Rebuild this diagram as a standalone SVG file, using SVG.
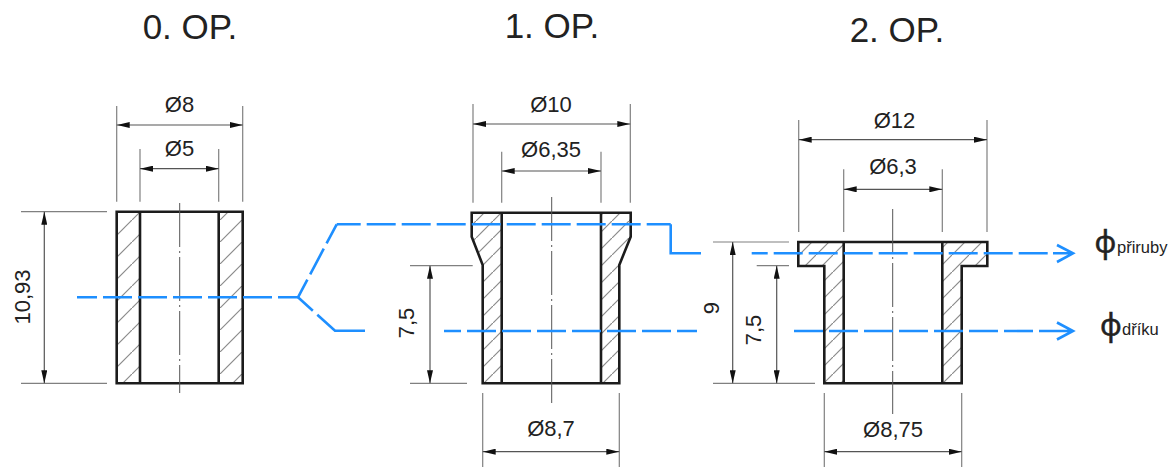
<svg xmlns="http://www.w3.org/2000/svg" width="1172" height="468" viewBox="0 0 1172 468">
<style>
text{font-family:"Liberation Sans",Arial,sans-serif;fill:#222}
.t{font-size:35px;text-anchor:middle}
.d{font-size:22px;text-anchor:middle}
.s{font-size:16.5px}
.f{font-size:30px;font-family:"Noto Sans","Open Sans",sans-serif;stroke:#222;stroke-width:.5}
.o{fill:none;stroke:#1c1c1c;stroke-width:2.6;stroke-linejoin:miter}
.e{fill:none;stroke:#808080;stroke-width:1.2}
.l{fill:none;stroke:#555;stroke-width:1.2}
.c{fill:none;stroke:#555;stroke-width:1;stroke-dasharray:44 4 2 4}
.b{fill:none;stroke:#1e8fff;stroke-width:2.6;stroke-dasharray:29 6}
.bs{fill:none;stroke:#1e8fff;stroke-width:2.6}
</style>
<defs>
<pattern id="h0" patternUnits="userSpaceOnUse" width="22" height="22"><path d="M-2 24L24 -2" fill="none" stroke="#8a8a8a" stroke-width="1.2"/></pattern>
<pattern id="h1" patternUnits="userSpaceOnUse" width="17" height="17"><path d="M-2 19L19 -2" fill="none" stroke="#8a8a8a" stroke-width="1.2"/></pattern>
<marker id="a" markerUnits="userSpaceOnUse" markerWidth="13" markerHeight="6" refX="13" refY="3" orient="auto-start-reverse"><path d="M0 0L13 3L0 6Z" fill="#111"/></marker>
</defs>
<g id="titles">
<text class="t" x="190" y="39">0. OP.</text>
<text class="t" x="552" y="38">1. OP.</text>
<text class="t" x="897" y="42">2. OP.</text>
</g>
<g id="part-0">
<path d="M116.7 211.7H140V383.3H116.7ZM218.7 211.7H242.7V383.3H218.7Z" fill="url(#h0)"/>
<path class="o" d="M116.7 211.7H242.7V383.3H116.7ZM140 211.7V383.3M218.7 211.7V383.3"/>
<path class="c" d="M179.7 203V393"/>
</g>
<g id="part-1">
<path d="M471.7 212.7H501.7V383.3H482.7V265L471.7 236.7ZM601 212.7H630.7V236.7L619.3 265V383.3H601Z" fill="url(#h1)"/>
<path class="o" d="M471.7 212.7H630.7V236.7L619.3 265V383.3H482.7V265L471.7 236.7ZM501.7 212.7V383.3M601 212.7V383.3"/>
<path class="c" d="M551.7 197V407"/>
</g>
<g id="part-2">
<path d="M798.3 242H843.7V383.3H824.3V266H798.3ZM942.3 242H987.3V266H961.7V383.3H942.3Z" fill="url(#h1)"/>
<path class="o" d="M798.3 242H987.3V266H961.7V383.3H824.3V266H798.3ZM843.7 242V383.3M942.3 242V383.3"/>
<path class="c" d="M892.7 209V414"/>
</g>
<g id="dimensions">
<path class="e" d="M116.7 106V201.7M242.7 106V201.7M140 149V201.7M218.7 149V201.7M21 211.7H107M21 383.3H107"/>
<line class="l" x1="116.7" y1="125" x2="242.7" y2="125" marker-start="url(#a)" marker-end="url(#a)"/>
<line class="l" x1="140" y1="168.7" x2="218.7" y2="168.7" marker-start="url(#a)" marker-end="url(#a)"/>
<line class="l" x1="44.3" y1="211.7" x2="44.3" y2="383.3" marker-start="url(#a)" marker-end="url(#a)"/>
<text class="d" x="179.5" y="112">Ø8</text>
<text class="d" x="179.5" y="156">Ø5</text>
<text class="d" transform="translate(30 297) rotate(-90)">10,93</text>

<path class="e" d="M473 104V202.7M630.3 104V202.7M501.7 151.7V202.7M601 151.7V202.7M410 265.7H472.7M410 383.3H467M482.7 393V467M619.3 393V467"/>
<line class="l" x1="473" y1="124" x2="630.3" y2="124" marker-start="url(#a)" marker-end="url(#a)"/>
<line class="l" x1="501.7" y1="171" x2="601" y2="171" marker-start="url(#a)" marker-end="url(#a)"/>
<line class="l" x1="430" y1="265.7" x2="430" y2="383.3" marker-start="url(#a)" marker-end="url(#a)"/>
<line class="l" x1="482.7" y1="451.7" x2="619.3" y2="451.7" marker-start="url(#a)" marker-end="url(#a)"/>
<text class="d" x="551" y="112.3">Ø10</text>
<text class="d" x="551" y="156.7">Ø6,35</text>
<text class="d" transform="translate(414 323) rotate(-90)">7,5</text>
<text class="d" x="551" y="436">Ø8,7</text>

<path class="e" d="M798.7 120V232M987 120V232M843.7 169.3V232M942.3 169.3V232M713 242H789M756.7 265.7H789M713 383.3H815M824.3 393V467M961.7 393V467"/>
<line class="l" x1="798.7" y1="139.7" x2="987" y2="139.7" marker-start="url(#a)" marker-end="url(#a)"/>
<line class="l" x1="843.7" y1="189.3" x2="942.3" y2="189.3" marker-start="url(#a)" marker-end="url(#a)"/>
<line class="l" x1="732.7" y1="242" x2="732.7" y2="383.3" marker-start="url(#a)" marker-end="url(#a)"/>
<line class="l" x1="776.7" y1="265.7" x2="776.7" y2="383.3" marker-start="url(#a)" marker-end="url(#a)"/>
<line class="l" x1="824.3" y1="451.7" x2="961.7" y2="451.7" marker-start="url(#a)" marker-end="url(#a)"/>
<text class="d" x="894.5" y="127.7">Ø12</text>
<text class="d" x="893" y="174.3">Ø6,3</text>
<text class="d" transform="translate(719 308) rotate(-90)">9</text>
<text class="d" transform="translate(761 330) rotate(-90)">7,5</text>
<text class="d" x="893" y="437">Ø8,75</text>
</g>
<g id="connectors">
<path class="b" style="stroke-dashoffset:9" d="M77 297.3H298"/>
<path class="b" style="stroke-dashoffset:9" d="M298 297.3L336.7 224.3"/>
<path class="b" style="stroke-dashoffset:5" d="M336.7 224.3H670.7"/>
<path class="bs" d="M670.7 224.3V253.3H701"/>
<path class="bs" style="stroke-dasharray:20 6 80" d="M298 297.3L335 330.7H365"/>
<path class="b" style="stroke-dashoffset:12" d="M444 331H697"/>
<path class="b" style="stroke-dashoffset:13" d="M751.7 253.3H1048"/>
<path class="b" style="stroke-dashoffset:33" d="M792 331H1034"/>
<path class="bs" d="M1053 253.3H1073M1057 245L1073 253.3L1057 262M1039 331H1073M1057 322.5L1073 331L1057 339.5"/>
</g>
<g id="label-priruby"><text class="f" x="1094.500" y="253">φ</text><text class="s" x="1117" y="253">přiruby</text></g>
<g id="label-driku"><text class="f" x="1100" y="336">φ</text><text class="s" x="1122" y="335">dříku</text></g>
</svg>
